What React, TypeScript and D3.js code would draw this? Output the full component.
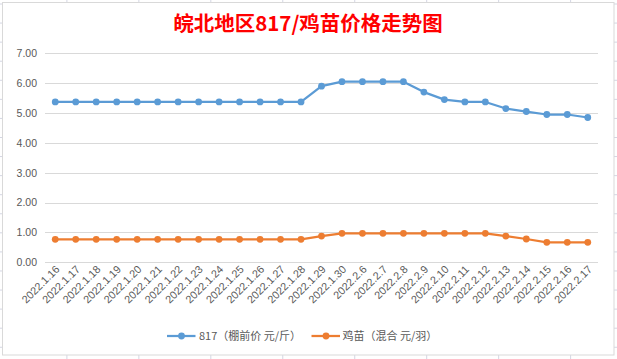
import React from 'react';
import * as d3 from 'd3';

const categories = [
  '2022.1.16', '2022.1.17', '2022.1.18', '2022.1.19', '2022.1.20', '2022.1.21', '2022.1.22',
  '2022.1.23', '2022.1.24', '2022.1.25', '2022.1.26', '2022.1.27', '2022.1.28', '2022.1.29',
  '2022.1.30', '2022.2.6', '2022.2.7', '2022.2.8', '2022.2.9', '2022.2.10', '2022.2.11',
  '2022.2.12', '2022.2.13', '2022.2.14', '2022.2.15', '2022.2.16', '2022.2.17',
];
const price817 = [
  5.37, 5.37, 5.37, 5.37, 5.37, 5.37, 5.37, 5.37, 5.37, 5.37, 5.37, 5.37, 5.37, 5.9,
  6.05, 6.05, 6.05, 6.05, 5.7, 5.45, 5.37, 5.37, 5.15, 5.05, 4.95, 4.95, 4.85,
];
const priceChick = [
  0.77, 0.77, 0.77, 0.77, 0.77, 0.77, 0.77, 0.77, 0.77, 0.77, 0.77, 0.77, 0.77, 0.88,
  0.97, 0.97, 0.97, 0.97, 0.97, 0.97, 0.97, 0.97, 0.88, 0.78, 0.67, 0.67, 0.67,
];
const yTicks = [0, 1, 2, 3, 4, 5, 6, 7];
const seriesNames = ['817（棚前价 元/斤）', '鸡苗（混合 元/羽）'];
const title = '皖北地区817/鸡苗价格走势图';

const W = 617;
const H = 359;
const colors = ['#5b9bd5', '#ed7d31'];
const textColor = '#595959';
const font = '"Liberation Sans", Arial, sans-serif';
const cjk = '"Noto Sans CJK SC", "Liberation Sans", sans-serif';

export default function App() {
  const x = d3.scaleBand<string>().domain(categories).range([45, 598]);
  const y = d3.scaleLinear().domain([0, 7]).range([262.3, 53.3]);
  const cx = (c: string) => (x(c) as number) + x.bandwidth() / 2;
  const line = d3
    .line<number>()
    .x((_, i) => cx(categories[i]))
    .y((d) => y(d));
  const series = [price817, priceChick];

  const hLines = d3.range(-1, 19).map((k) => 4 + 19.07 * k);
  const vLines = d3.range(-1, 9).map((k) => 66.9 + 71.96 * k);

  return (
    <svg width={W} height={H} style={{ position: 'absolute', left: 0, top: 0 }}>
      <rect x={0} y={0} width={W} height={H} fill="#fff" />
      {hLines.map((v, i) => (
        <line key={'h' + i} x1={0} x2={W} y1={v} y2={v} stroke="#d4d6e3" strokeWidth={1} />
      ))}
      {vLines.map((v, i) => (
        <line key={'v' + i} x1={v} x2={v} y1={0} y2={H} stroke="#d4d6e3" strokeWidth={1} />
      ))}
      <rect x={2.5} y={2.5} width={611.5} height={352.5} fill="#fff" stroke="#d9d9d9" strokeWidth={1} />

      <text
        x={308}
        y={30.5}
        textAnchor="middle"
        fill="#ff0000"
        fontWeight="bold"
        fontSize={20.5}
        fontFamily={cjk}
      >
        {title}
      </text>

      {yTicks.map((t) => (
        <g key={t}>
          <line x1={45} x2={598} y1={Math.round(y(t)) + 0.5} y2={Math.round(y(t)) + 0.5} stroke="#d9d9d9" strokeWidth={1} />
          <text x={37} y={y(t) + 3.8} textAnchor="end" fontSize={10.5} fontFamily={font} fill={textColor}>
            {t.toFixed(2)}
          </text>
        </g>
      ))}

      {categories.map((c) => (
        <text
          key={c}
          transform={`translate(${cx(c) + 5},${270}) rotate(-45)`}
          textAnchor="end"
          fontSize={10.8}
          fontFamily={font}
          fill={textColor}
        >
          {c}
        </text>
      ))}

      {series.map((s, si) => (
        <g key={si}>
          <path d={line(s) || ''} fill="none" stroke={colors[si]} strokeWidth={2.25} strokeLinejoin="round" />
          {s.map((v, i) => (
            <circle key={i} cx={cx(categories[i])} cy={y(v)} r={3.4} fill={colors[si]} />
          ))}
        </g>
      ))}

      {[{ lx: 167, tx: 199 }, { lx: 311.5, tx: 342.5 }].map((p, i) => (
        <g key={i}>
          <line x1={p.lx} x2={p.lx + 28.5} y1={336} y2={336} stroke={colors[i]} strokeWidth={2.25} />
          <circle cx={p.lx + 14.5} cy={336} r={3.4} fill={colors[i]} />
          <text x={p.tx} y={340} fontSize={11} fontFamily={cjk} fill={textColor}>
            {seriesNames[i]}
          </text>
        </g>
      ))}
    </svg>
  );
}
